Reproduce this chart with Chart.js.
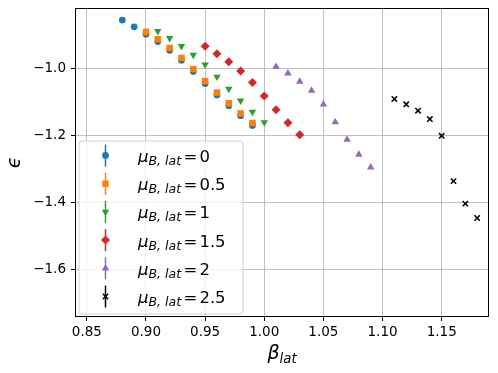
<!DOCTYPE html>
<html><head><meta charset="utf-8">
<script src="https://cdn.jsdelivr.net/npm/chart.js@4.4.1/dist/chart.umd.min.js"></script>
<style>html,body{margin:0;padding:0;background:#fff;overflow:hidden}</style>
</head><body>
<canvas id="c" width="498" height="373"></canvas>
<script>
// ---- data ----
const beta0  = [0.88,0.89,0.90,0.91,0.92,0.93,0.94,0.95,0.96,0.97,0.98,0.99];
const eps0   = [-0.856,-0.876,-0.898,-0.920,-0.946,-0.976,-1.009,-1.045,-1.079,-1.111,-1.141,-1.170];
const beta05 = [0.90,0.91,0.92,0.93,0.94,0.95,0.96,0.97,0.98,0.99];
const eps05  = [-0.891,-0.913,-0.939,-0.969,-1.002,-1.038,-1.072,-1.104,-1.134,-1.163];
const beta1  = [0.91,0.92,0.93,0.94,0.95,0.96,0.97,0.98,0.99,1.00];
const eps1   = [-0.889,-0.910,-0.934,-0.960,-0.989,-1.025,-1.061,-1.096,-1.130,-1.161];
const beta15 = [0.95,0.96,0.97,0.98,0.99,1.00,1.01,1.02,1.03];
const eps15  = [-0.934,-0.956,-0.980,-1.008,-1.042,-1.082,-1.123,-1.162,-1.198];
const beta2  = [1.01,1.02,1.03,1.04,1.05,1.06,1.07,1.08,1.09];
const eps2   = [-0.995,-1.015,-1.039,-1.066,-1.107,-1.160,-1.212,-1.257,-1.295];
const beta25 = [1.11,1.12,1.13,1.14,1.15,1.16,1.17,1.18];
const eps25  = [-1.091,-1.107,-1.126,-1.151,-1.201,-1.336,-1.403,-1.446];
const muLabels = ['0','0.5','1','1.5','2','2.5'];
const xTicks = [0.85,0.90,0.95,1.00,1.05,1.10,1.15];
const yTicks = [-1.0,-1.2,-1.4,-1.6];
const xRange = [0.84, 1.19];
const yRange = [-1.741, -0.820];

// ---- styles ----
const seriesX = [beta0,beta05,beta1,beta15,beta2,beta25];
const seriesY = [eps0,eps05,eps1,eps15,eps2,eps25];
const colors = ['#1f77b4','#ff7f0e','#2ca02c','#d62728','#9467bd','#000000'];
const styles = [
  {pointStyle:'circle',   radius:3.4, rotation:0,   bw:0},
  {pointStyle:'rect',     radius:4.6, rotation:0,   bw:0},
  {pointStyle:'triangle', radius:4.3, rotation:180, bw:0},
  {pointStyle:'rectRot',  radius:4.5, rotation:0,   bw:0},
  {pointStyle:'triangle', radius:4.3, rotation:0,   bw:0},
  {pointStyle:'crossRot', radius:3.8, rotation:0,   bw:1.5}
];

const datasets = seriesX.map((xs, i) => ({
  label: muLabels[i],
  data: xs.map((x, j) => ({x: x, y: seriesY[i][j]})),
  showLine: false,
  backgroundColor: colors[i],
  borderColor: colors[i],
  pointStyle: styles[i].pointStyle,
  pointRadius: styles[i].radius,
  pointRotation: styles[i].rotation,
  pointBorderWidth: styles[i].bw,
  pointHoverRadius: styles[i].radius,
  order: seriesX.length - i
}));

const FONT = '"DejaVu Sans", sans-serif';

const framePlugin = {
  id: 'frame',
  afterDatasetsDraw(chart) {
    const a = chart.chartArea, ctx = chart.ctx;
    ctx.save();
    ctx.strokeStyle = '#000';
    ctx.lineWidth = 1;
    ctx.strokeRect(Math.round(a.left) + 0.5, Math.round(a.top) + 0.5,
                   Math.round(a.right - a.left) - 1, Math.round(a.bottom - a.top) - 1);
    ctx.restore();
  }
};

function drawMarker(ctx, st, color, x, y) {
  ctx.fillStyle = color;
  ctx.strokeStyle = color;
  ctx.lineWidth = st.bw;
  if (Chart.helpers && Chart.helpers.drawPoint) {
    Chart.helpers.drawPoint(ctx, {pointStyle: st.pointStyle, radius: st.radius,
      rotation: st.rotation, borderWidth: st.bw}, x, y);
  }
}

const legendPlugin = {
  id: 'mplLegend',
  afterDraw(chart) {
    const ctx = chart.ctx;
    const a = chart.chartArea;
    const bx = a.left + 4, by = 141, bw = 164, bh = 173, r = 3;
    ctx.save();
    ctx.beginPath();
    ctx.moveTo(bx + r, by);
    ctx.lineTo(bx + bw - r, by);
    ctx.quadraticCurveTo(bx + bw, by, bx + bw, by + r);
    ctx.lineTo(bx + bw, by + bh - r);
    ctx.quadraticCurveTo(bx + bw, by + bh, bx + bw - r, by + bh);
    ctx.lineTo(bx + r, by + bh);
    ctx.quadraticCurveTo(bx, by + bh, bx, by + bh - r);
    ctx.lineTo(bx, by + r);
    ctx.quadraticCurveTo(bx, by, bx + r, by);
    ctx.closePath();
    ctx.fillStyle = 'rgba(255,255,255,0.8)';
    ctx.fill();
    ctx.strokeStyle = '#d0d0d0';
    ctx.lineWidth = 1;
    ctx.stroke();

    chart.data.datasets.forEach((ds, i) => {
      const cy = by + 14.5 + i * 28.2;
      const mx = bx + 26.5;
      ctx.strokeStyle = colors[i];
      ctx.lineWidth = 1.5;
      ctx.beginPath();
      ctx.moveTo(mx, cy - 11);
      ctx.lineTo(mx, cy + 11);
      ctx.stroke();
      drawMarker(ctx, styles[i], colors[i], mx, cy);

      const base = cy + 6.5;
      let tx = bx + 59;
      ctx.fillStyle = '#000';
      ctx.textAlign = 'left';
      ctx.textBaseline = 'alphabetic';
      ctx.font = 'italic 16.5px ' + FONT;
      ctx.fillText('μ', tx, base);
      tx += ctx.measureText('μ').width;
      ctx.font = 'italic 12.5px ' + FONT;
      ctx.fillText('B, lat', tx, base + 3);
      tx += ctx.measureText('B, lat').width + 2.5;
      ctx.font = '16.5px ' + FONT;
      ctx.fillText('=', tx, base);
      tx += ctx.measureText('=').width + 2;
      ctx.fillText(ds.label, tx, base);
    });
    ctx.restore();
  }
};

const titlePlugin = {
  id: 'titles',
  afterDraw(chart) {
    const ctx = chart.ctx, a = chart.chartArea;
    ctx.save();
    ctx.fillStyle = '#000';
    ctx.textBaseline = 'alphabetic';
    // x title: beta_lat
    ctx.font = 'italic 19px ' + FONT;
    const wB = ctx.measureText('β').width;
    ctx.font = 'italic 13.3px ' + FONT;
    const wS = ctx.measureText('lat').width;
    const cx = (a.left + a.right) / 2;
    let sx = cx - (wB + wS) / 2;
    ctx.textAlign = 'left';
    ctx.font = 'italic 19px ' + FONT;
    ctx.fillText('β', sx, 359);
    ctx.font = 'italic 13.3px ' + FONT;
    ctx.fillText('lat', sx + wB, 363);
    // y title: epsilon
    ctx.translate(20, (a.top + a.bottom) / 2);
    ctx.rotate(-Math.PI / 2);
    ctx.textAlign = 'center';
    ctx.font = 'italic 19px ' + FONT;
    ctx.fillText('ϵ', 0, 0);
    ctx.restore();
  }
};

new Chart(document.getElementById('c'), {
  type: 'scatter',
  data: { datasets: datasets },
  options: {
    responsive: false,
    animation: false,
    devicePixelRatio: 1,
    layout: { padding: { top: 8, right: 9, left: 0, bottom: 0 } },
    plugins: { legend: { display: false }, tooltip: { enabled: false } },
    scales: {
      x: {
        type: 'linear',
        min: xRange[0], max: xRange[1],
        afterBuildTicks: s => { s.ticks = xTicks.map(v => ({ value: v })); },
        afterFit: s => { s.height = 56; s.paddingLeft = 0; s.paddingRight = 0; },
        ticks: {
          callback: v => Number(v).toFixed(2),
          font: { family: 'DejaVu Sans', size: 13.5 },
          color: '#000', padding: 3, maxRotation: 0, autoSkip: false
        },
        grid: { color: '#b0b0b0', lineWidth: 0.8, tickColor: '#000', tickLength: 4, tickWidth: 1 },
        border: { display: false }
      },
      y: {
        type: 'linear',
        min: yRange[0], max: yRange[1],
        afterBuildTicks: s => { s.ticks = yTicks.map(v => ({ value: v })); },
        afterFit: s => { s.width = 75; s.paddingTop = 0; s.paddingBottom = 0; },
        ticks: {
          callback: v => Number(v).toFixed(1).replace('-', '\u2212'),
          font: { family: 'DejaVu Sans', size: 13.5 },
          color: '#000', padding: 5, autoSkip: false
        },
        grid: { color: '#b0b0b0', lineWidth: 0.8, tickColor: '#000', tickLength: 4, tickWidth: 1 },
        border: { display: false }
      }
    }
  },
  plugins: [framePlugin, legendPlugin, titlePlugin]
});
</script>
</body></html>
